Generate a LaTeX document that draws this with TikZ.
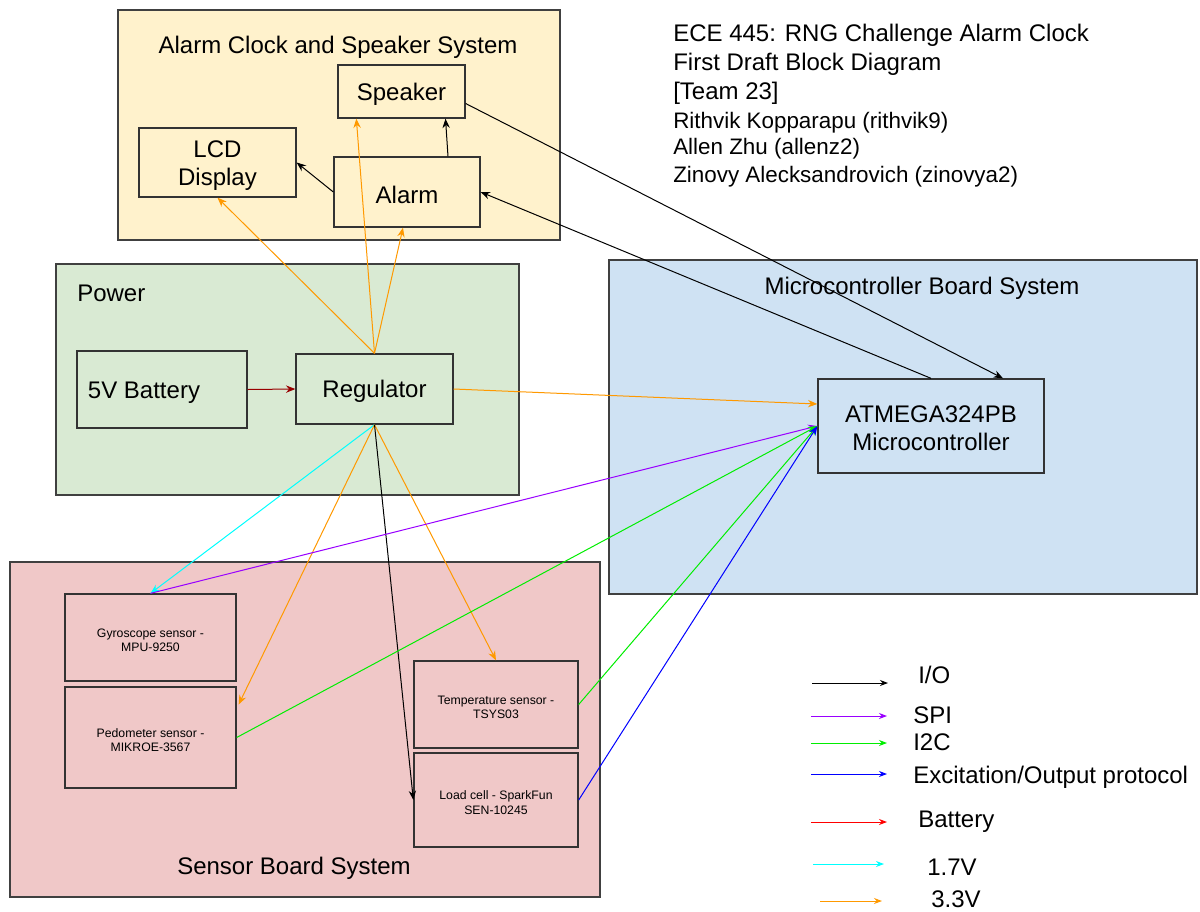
\documentclass[tikz,border=0pt]{standalone}
\usepackage{fontspec}
\setmainfont{Liberation Sans}
\usetikzlibrary{arrows.meta,calc,fit}
\definecolor{grpY}{HTML}{FFF2CC}
\definecolor{grpG}{HTML}{D9EAD3}
\definecolor{grpB}{HTML}{CFE2F3}
\definecolor{grpR}{HTML}{F0C8C8}
\definecolor{cOrg}{HTML}{FF9900}
\definecolor{cCyan}{HTML}{00FFFF}
\definecolor{cPur}{HTML}{9900FF}
\definecolor{cGrn}{HTML}{00EE00}
\definecolor{cBlu}{HTML}{0000FF}
\definecolor{cBat}{HTML}{990000}
\definecolor{cRed}{HTML}{FF0000}
\begin{document}
\begin{tikzpicture}[x=0.75pt,y=-0.75pt,
  grp/.style={draw=black!75, line width=1.1pt, inner sep=0pt},
  blk/.style={draw=black!80, line width=1pt, inner sep=0pt},
  btxt/.style={align=center, font=\fontsize{18}{21}\selectfont, yshift=-2pt},
  stxt/.style={align=center, font=\fontsize{9.2}{10.8}\selectfont, yshift=-2pt},
  big/.style={font=\fontsize{18}{21}\selectfont},
  lbl/.style={big, anchor=west, inner sep=0pt},
  hdr/.style={big, anchor=west, inner sep=0pt},
  nm/.style={font=\fontsize{16.8}{20}\selectfont, anchor=west, inner sep=0pt},
  con/.style={line width=0.75pt, -{Stealth[length=7pt,width=5.5pt]}},
  leg/.style={line width=0.75pt, -{Stealth[length=6pt,width=4.5pt]}}
]
\useasboundingbox[fill=white] (0,0) rectangle (1200,911);

% groups
\node[grp, fill=grpY, fit={(118,10) (560,240)}] (gAlarm) {};
\node[grp, fill=grpG, fit={(56,264) (519,495)}] (gPower) {};
\node[grp, fill=grpB, fit={(609,260) (1197,594)}] (gMicro) {};
\node[grp, fill=grpR, fit={(10,562) (600,897)}] (gSensor) {};

\node[big] (tAlarm) at (338,47) {Alarm Clock and Speaker System};
\node[big, anchor=west, inner sep=0pt] (tPower) at (77,293) {Power};
\node[big] (tMicro) at (922,288) {Microcontroller Board System};
\node[big] (tSensor) at (294,868) {Sensor Board System};

% blocks
\node[blk, fit={(338,65) (465,118)}, label={[btxt]center:Speaker}] (spk) {};
\node[blk, fit={(139,128) (296,197)}, label={[btxt]center:LCD\\Display}] (lcd) {};
\node[blk, fit={(334,157) (480,227)}, label={[btxt]center:Alarm}] (alarm) {};
\node[blk, fit={(77,351) (247,428)}] (bat) {};
\node[big] (tBat) at (144,393) {5V Battery};
\node[blk, fit={(296,354) (453,424)}, label={[btxt]center:Regulator}] (reg) {};
\node[blk, fit={(818,379) (1044,473)}, label={[btxt]center:ATMEGA324PB\\Microcontroller}] (atm) {};
\node[blk, fit={(65,594) (236,681)}, label={[stxt]center:Gyroscope sensor -\\MPU-9250}] (gyro) {};
\node[blk, fit={(65,687) (236,788)}, label={[stxt]center:Pedometer sensor -\\MIKROE-3567}] (ped) {};
\node[blk, fit={(414,661) (578,748)}, label={[stxt]center:Temperature sensor -\\TSYS03}] (temp) {};
\node[blk, fit={(414,753) (578,847)}, label={[stxt]center:Load cell - SparkFun\\SEN-10245}] (load) {};

% header text
\node[hdr] (h1) at (673,35) {ECE 445: RNG Challenge Alarm Clock};
\node[hdr] (h2) at (673,64) {First Draft Block Diagram};
\node[hdr] (h3) at (673,93) {[Team 23]};
\node[nm] (h4) at (673,123) {Rithvik Kopparapu (rithvik9)};
\node[nm] (h5) at (673,149) {Allen Zhu (allenz2)};
\node[nm] (h6) at (673,177) {Zinovy Alecksandrovich (zinovya2)};

% connectors
\draw[con, cBat] (bat.east) -- (reg.west);
\draw[con, cOrg] (reg.east) -- ($(atm.west)+(0,-22)$);
\draw[con, cOrg] (reg.north) -- (lcd.south);
\draw[con, cOrg] (reg.north) -- ($(spk.south west)+(19,0)$);
\draw[con, cOrg] (reg.north) -- ($(alarm.south)+(-4,0)$);
\draw[con] (alarm.west) -- (lcd.east);
\draw[con] ($(alarm.north)+(41,0)$) -- ($(spk.south)+(44,0)$);
\draw[con] ($(spk.east)+(0,12)$) -- ($(atm.north)+(72,0)$);
\draw[con] (atm.north) -- (alarm.east);
\draw[con, cCyan] (reg.south) -- (gyro.north);
\draw[con, cOrg] (reg.south) -- ($(ped.east)+(2,-33)$);
\draw[con, cOrg] (reg.south) -- (temp.north);
\draw[con] (reg.south) -- (load.west);
\draw[con, cPur] (gyro.north) -- (atm.west);
\draw[con, cGrn] (ped.east) -- (atm.west);
\draw[con, cGrn] (temp.east) -- (atm.west);
\draw[con, cBlu] (load.east) -- (atm.west);

% legend
\coordinate (l1a) at (812,683); \coordinate (l1b) at (888,683);
\coordinate (l2a) at (811,716); \coordinate (l2b) at (887,716);
\coordinate (l3a) at (811,743); \coordinate (l3b) at (887,743);
\coordinate (l4a) at (811,774); \coordinate (l4b) at (887,774);
\coordinate (l5a) at (811,822); \coordinate (l5b) at (887,822);
\coordinate (l6a) at (813,864); \coordinate (l6b) at (884,864);
\coordinate (l7a) at (820,901); \coordinate (l7b) at (882,901);
\draw[leg] (l1a) -- (l1b);
\draw[leg, cPur] (l2a) -- (l2b);
\draw[leg, cGrn] (l3a) -- (l3b);
\draw[leg, cBlu] (l4a) -- (l4b);
\draw[leg, cRed] (l5a) -- (l5b);
\draw[leg, cCyan] (l6a) -- (l6b);
\draw[leg, cOrg] (l7a) -- (l7b);
\node[lbl] (k1) at (918,675) {I/O};
\node[lbl] (k2) at (913,715) {SPI};
\node[lbl] (k3) at (913,742) {I2C};
\node[lbl] (k4) at (913,777) {Excitation/Output protocol};
\node[lbl] (k5) at (918,822) {Battery};
\node[lbl] (k6) at (927,867) {1.7V};
\node[lbl] (k7) at (931,899) {3.3V};
\end{tikzpicture}
\end{document}
